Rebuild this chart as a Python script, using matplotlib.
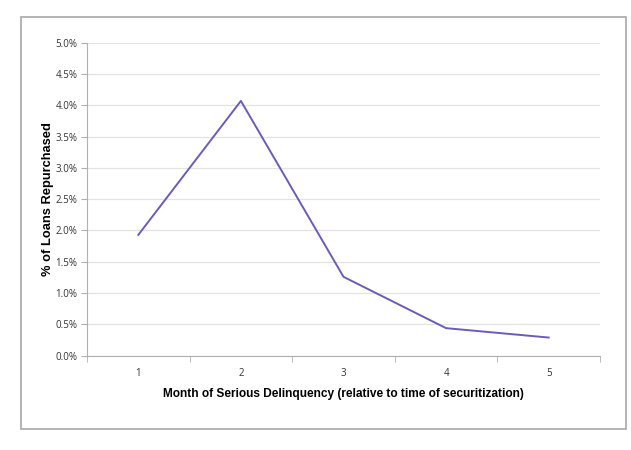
import matplotlib
matplotlib.use("Agg")
import matplotlib.pyplot as plt
from matplotlib.patches import Rectangle
from matplotlib.ticker import FuncFormatter, MultipleLocator

months = [1, 2, 3, 4, 5]
pct_repurchased = [1.93, 4.07, 1.26, 0.44, 0.29]

fig = plt.figure(figsize=(6.31, 4.5), dpi=100)
ax = fig.add_axes([87 / 631, 1 - 355.7 / 450, 513 / 631, 313 / 450])

ax.plot(months, pct_repurchased, color="#6B5BBE", linewidth=1.4)

ax.set_xlim(0.5, 5.5)
ax.set_ylim(0, 5)
ax.yaxis.set_major_locator(MultipleLocator(0.5))
ax.yaxis.set_major_formatter(FuncFormatter(lambda v, p: "%.1f%%" % v))
ax.grid(axis="y", color="#e3e3e3", linewidth=0.9)
ax.set_axisbelow(True)

ax.set_xticks(months)
ax.set_xticks([0.5, 1.5, 2.5, 3.5, 4.5, 5.5], minor=True)
ax.tick_params(axis="x", which="major", length=0, pad=9)
ax.tick_params(axis="x", which="minor", length=4, color="#b0b0b0")
ax.tick_params(axis="y", length=4, color="#b0b0b0", pad=3)
ax.tick_params(labelsize=7, labelcolor="#333333")
for lab in ax.get_xticklabels() + ax.get_yticklabels():
    lab.set_family("Open Sans")

for s in ["top", "right"]:
    ax.spines[s].set_visible(False)
for s in ["left", "bottom"]:
    ax.spines[s].set_color("#b0b0b0")

ax.set_xlabel("Month of Serious Delinquency (relative to time of securitization)",
              fontsize=8.6, fontweight="bold", family="Liberation Sans", labelpad=6)
ax.set_ylabel("% of Loans Repurchased", fontsize=9.3, fontweight="bold",
              family="Liberation Sans", labelpad=1)

fig.patches.append(Rectangle((20.5 / 631, 21 / 450), 605.5 / 631, 412 / 450,
                             transform=fig.transFigure, fill=False,
                             edgecolor="#a8a8a8", linewidth=1.2))

fig.savefig("out.png", dpi=100)
